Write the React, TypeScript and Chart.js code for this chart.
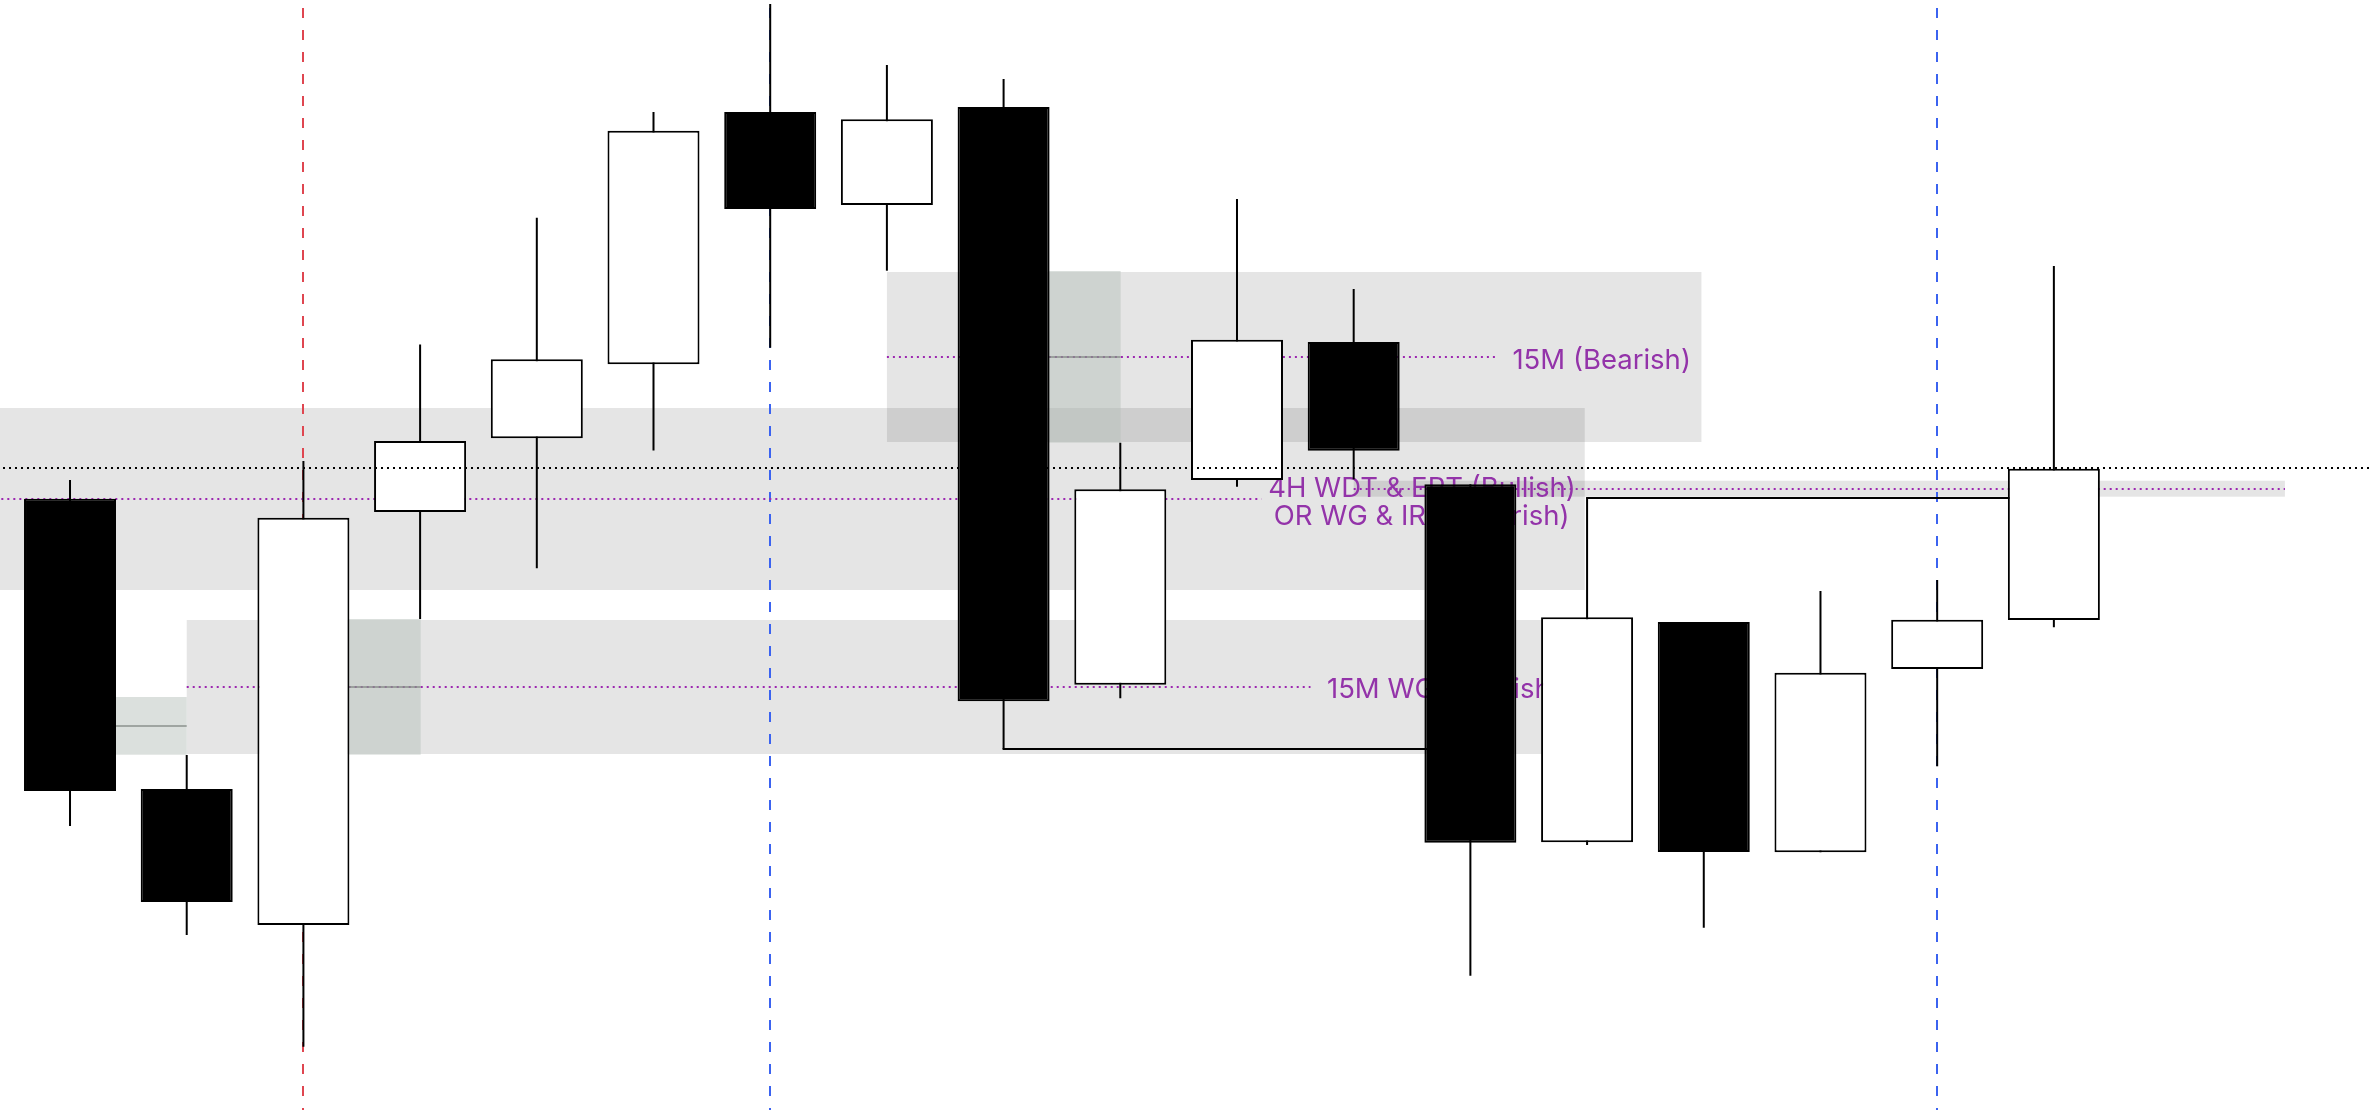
import React, { useEffect, useRef } from 'react';
import { Chart, registerables } from 'chart.js';

Chart.register(...registerables);

// ---- Candles (price units) ----
const candleIndex = [0, 1, 2, 3, 4, 5, 6, 7, 8, 9, 10, 11, 12, 13, 14, 15, 16, 17];
const opens = [611.3, 321, 185, 598, 671.7, 745.7, 998, 905, 1003, 425.3, 630, 768, 625.7, 267.7, 488, 257.7, 441, 490];
const highs = [630, 355, 649, 765.4, 892.3, 998, 1106, 1045, 1031, 667.3, 911, 821, 625.7, 611.7, 488, 519, 530, 844];
const lows = [284, 175, 63.3, 491, 541.7, 659.6, 762.3, 839.3, 361, 411.7, 623.3, 630.7, 134.3, 265, 182.3, 257.7, 343.7, 482.7];
const closes = [319, 208, 592.3, 669, 750.7, 979.3, 901, 990.7, 408.7, 620.7, 770.3, 659.3, 267.3, 492.7, 258, 437.3, 490.3, 641.3];

// ---- Zones ----
const zoneLabels = ['OR WG & IRT (Bearish)', '15M WG (Bearish)', '15M (Bearish)', '4H WDT & EPT (Bullish)'];
const zoneStart = [-1, 1.0, 7.0, 11.0];
const zoneEnd = [12.98, 12.61, 13.98, 18.98];
const zoneLow = [520, 356, 668, 613.3];
const zoneHigh = [702, 490, 838, 629.3];
const zoneLineEnd = [10.21, 10.63, 12.21, 18.98];
const labelCenter = [11.582, 11.773, 13.125, 11.585];
const labelBaseline = [585.5, 411.7, 741, 612.7];

// ---- Gaps ----
const gapStart = [0.394, 2.388, 8.389];
const gapEnd = [1.0, 3.005, 9.003];
const gapLow = [355.3, 355.3, 667.3];
const gapHigh = [413, 491, 839];

// ---- Swept levels ----
const sweepFrom = [8, 13];
const sweepTo = [12, 17];
const sweepLevel = [lows[8], highs[13]];

// ---- Session markers ----
const sessionMarks = [2, 6, 16];
const sessionColors = ['#df4650', '#3b63f0', '#3b63f0'];

// ---- Open level ----
const openLevel = 642;

const X_MIN = -0.6;
const X_MAX = 19.709;

const overlayPlugin = {
  id: 'overlays',
  beforeDatasetsDraw(chart: any) {
    const { ctx, scales } = chart;
    const x = scales.x;
    const y = scales.y;
    const area = chart.chartArea;
    ctx.save();
    // zones
    ctx.fillStyle = 'rgba(0,0,0,0.1)';
    for (let i = 0; i < zoneLabels.length; i++) {
      const x0 = x.getPixelForValue(zoneStart[i]);
      const x1 = x.getPixelForValue(zoneEnd[i]);
      const y0 = y.getPixelForValue(zoneHigh[i]);
      const y1 = y.getPixelForValue(zoneLow[i]);
      ctx.fillRect(x0, y0, x1 - x0, y1 - y0);
    }
    // vertical session markers
    ctx.lineWidth = 2;
    ctx.setLineDash([10, 12]);
    ctx.lineDashOffset = 14;
    for (let i = 0; i < sessionMarks.length; i++) {
      const px = Math.round(x.getPixelForValue(sessionMarks[i]));
      ctx.strokeStyle = sessionColors[i];
      ctx.beginPath();
      ctx.moveTo(px, area.top);
      ctx.lineTo(px, area.bottom);
      ctx.stroke();
    }
    // zone mid lines
    ctx.setLineDash([2, 4]);
    ctx.lineDashOffset = 0;
    ctx.strokeStyle = '#9c27b0';
    for (let i = 0; i < zoneLabels.length; i++) {
      const mid = (zoneLow[i] + zoneHigh[i]) / 2;
      const py = Math.round(y.getPixelForValue(mid));
      ctx.beginPath();
      ctx.moveTo(x.getPixelForValue(zoneStart[i]), py);
      ctx.lineTo(x.getPixelForValue(zoneLineEnd[i]), py);
      ctx.stroke();
    }
    // gaps
    ctx.setLineDash([]);
    for (let i = 0; i < gapStart.length; i++) {
      const x0 = x.getPixelForValue(gapStart[i]);
      const x1 = x.getPixelForValue(gapEnd[i]);
      const y0 = y.getPixelForValue(gapHigh[i]);
      const y1 = y.getPixelForValue(gapLow[i]);
      ctx.fillStyle = 'rgba(180,190,183,0.48)';
      ctx.fillRect(x0, y0, x1 - x0, y1 - y0);
      const py = Math.round(y.getPixelForValue((gapLow[i] + gapHigh[i]) / 2));
      ctx.strokeStyle = 'rgba(120,126,122,0.6)';
      ctx.lineWidth = 2;
      ctx.beginPath();
      ctx.moveTo(x0, py);
      ctx.lineTo(x1, py);
      ctx.stroke();
    }
    // swept levels
    ctx.strokeStyle = '#000';
    ctx.lineWidth = 2;
    for (let i = 0; i < sweepFrom.length; i++) {
      const py = Math.round(y.getPixelForValue(sweepLevel[i]));
      ctx.beginPath();
      ctx.moveTo(x.getPixelForValue(sweepFrom[i]) - 1, py);
      ctx.lineTo(x.getPixelForValue(sweepTo[i]), py);
      ctx.stroke();
    }
    // labels
    ctx.font = '27.5px Inter';
    ctx.fillStyle = '#9333a9';
    ctx.textAlign = 'center';
    ctx.textBaseline = 'alphabetic';
    for (let i = 0; i < zoneLabels.length; i++) {
      ctx.fillText(zoneLabels[i], x.getPixelForValue(labelCenter[i]), y.getPixelForValue(labelBaseline[i]));
    }
    ctx.restore();
  },
  afterDatasetsDraw(chart: any) {
    const { ctx, scales } = chart;
    const y = scales.y;
    const area = chart.chartArea;
    ctx.save();
    ctx.strokeStyle = '#000';
    ctx.lineWidth = 2;
    ctx.setLineDash([2, 4]);
    ctx.lineDashOffset = 3;
    const py = Math.round(y.getPixelForValue(openLevel));
    ctx.beginPath();
    ctx.moveTo(area.left, py);
    ctx.lineTo(area.right, py);
    ctx.stroke();
    ctx.restore();
  },
};

export default function App() {
  const ref = useRef<HTMLCanvasElement | null>(null);
  useEffect(() => {
    if (!ref.current) return;
    const bodyColors = candleIndex.map((i) => (closes[i] >= opens[i] ? '#ffffff' : '#000000'));
    const chart = new Chart(ref.current, {
      type: 'bar',
      data: {
        datasets: [
          {
            label: 'Body',
            data: candleIndex.map((i) => ({ x: i, y: [opens[i], closes[i]] })) as any,
            backgroundColor: bodyColors,
            borderColor: '#000000',
            borderWidth: 2,
            borderSkipped: false,
            barThickness: 92,
            grouped: false,
            inflateAmount: 0,
            order: 0,
          } as any,
          {
            label: 'Wick',
            data: candleIndex.map((i) => ({ x: i, y: [lows[i], highs[i]] })) as any,
            backgroundColor: '#000000',
            borderWidth: 0,
            barThickness: 2,
            grouped: false,
            inflateAmount: 0,
            order: 1,
          } as any,
        ],
      },
      options: {
        responsive: false,
        maintainAspectRatio: false,
        animation: false,
        devicePixelRatio: 1,
        layout: { padding: 0 },
        plugins: { legend: { display: false }, tooltip: { enabled: false } },
        scales: {
          x: { type: 'linear', min: X_MIN, max: X_MAX, display: false, offset: false },
          y: { type: 'linear', min: 0, max: 1110, display: false },
        },
      } as any,
      plugins: [overlayPlugin],
    });
    return () => chart.destroy();
  }, []);
  return (
    <div style={{ position: 'fixed', left: 0, top: 0, width: 2370, height: 1110, background: '#ffffff' }}>
      <canvas ref={ref} width={2370} height={1110} style={{ display: 'block' }} />
    </div>
  );
}
